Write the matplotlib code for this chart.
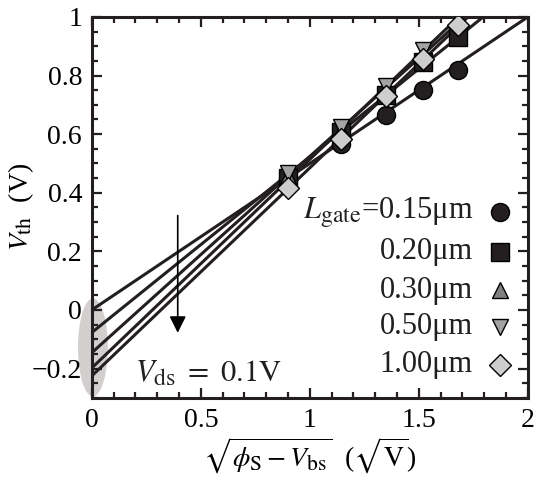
import numpy as np
import matplotlib
matplotlib.use('Agg')
import matplotlib.pyplot as plt
import matplotlib._mathtext as mathtext_internal
from matplotlib.patches import Ellipse

# the original uses rather large subscripts
mathtext_internal.SHRINK_FACTOR = 0.78

plt.rcParams['font.family'] = 'Liberation Serif'
plt.rcParams['mathtext.fontset'] = 'stix'
plt.rcParams['font.size'] = 20

# gate lengths and measured threshold voltages
gate_labels = ['0.15', '0.20', '0.30', '0.50', '1.00']
x_meas = [0.90, 1.145, 1.35, 1.52, 1.68]
vth_015 = [0.445, 0.568, 0.666, 0.751, 0.819]
vth_020 = [0.452, 0.608, 0.734, 0.847, 0.930]
vth_030 = [0.458, 0.615, 0.755, 0.875, 0.990]
vth_050 = [0.466, 0.625, 0.765, 0.888, 1.005]
vth_100 = [0.417, 0.585, 0.730, 0.856, 0.973]

# linear fits: intercept, slope
fit_icpt = [0.0, -0.077, -0.146, -0.198, -0.225]
fit_slope = [0.50, 0.60, 0.67, 0.712, 0.71]

series = [vth_015, vth_020, vth_030, vth_050, vth_100]
markers = ['o', 's', '^', 'v', 'D']
mcolors = ['#231f20', '#231f20', '#808080', '#a3a3a3', '#cdcdcd']
msizes = [13, 13, 12, 12, 11]
dark = '#231f20'

fig = plt.figure(figsize=(5.37, 4.84), dpi=100)
ax = fig.add_axes([0.171, 0.178, 0.812, 0.787])

# gray ellipse marking the intercepts
ell = Ellipse((0.005, -0.128), 0.137, 0.335, facecolor='#d3cfcf',
              edgecolor='none', clip_on=False, zorder=0)
ax.add_patch(ell)

xl = np.array([0.0, 2.0])
for a, b in zip(fit_icpt, fit_slope):
    ax.plot(xl, a + b*xl, color=dark, lw=2.2, zorder=2)

for vals, m, c, s in zip(series, markers, mcolors, msizes):
    ax.plot(x_meas, vals, linestyle='none', marker=m, ms=s, mfc=c,
            mec='black', mew=1.0, zorder=3)

# legend, drawn by hand so the labels are right aligned
leg_y = [0.488, 0.383, 0.283, 0.186, 0.087]
for i, lab in enumerate(gate_labels):
    txt = lab + u'\u03bcm'
    if i == 0:
        txt = r'$L_{\rm gate}$=' + txt
    ax.text(0.874, leg_y[i], txt, transform=ax.transAxes, ha='right',
            va='center', color=dark, fontsize=22)
    ax.plot([0.936], [leg_y[i]], transform=ax.transAxes, marker=markers[i],
            ms=msizes[i], mfc=mcolors[i], mec='black', mew=1.0,
            linestyle='none', clip_on=False)

# arrow for increasing gate length
ax.annotate('', xy=(0.394, -0.078), xytext=(0.394, 0.322),
            arrowprops=dict(arrowstyle='-|>', color='black', lw=1.2,
                            mutation_scale=25, shrinkA=0, shrinkB=0))
ax.text(0.197, -0.22, r'$V_{\rm ds}\ =\ 0.1{\rm V}$', va='center',
        ha='left', color=dark, fontsize=22)

ax.set_xlim(0, 2)
ax.set_ylim(-0.3, 1)
ax.set_xticks([0, 0.5, 1, 1.5, 2])
ax.set_xticklabels(['0', '0.5', '1', '1.5', '2'])
ax.set_yticks([-0.2, 0, 0.2, 0.4, 0.6, 0.8, 1])
ax.set_yticklabels([u'\u22120.2', '0', '0.2', '0.4', '0.6', '0.8', '1'])
ax.set_xticks(np.arange(0, 2.01, 0.1), minor=True)
ax.set_yticks(np.arange(-0.3, 1.001, 0.05), minor=True)
ax.tick_params(which='both', direction='in', top=True, right=True,
               width=1.6, color=dark)
ax.tick_params(which='major', length=7.5, pad=7)
ax.tick_params(which='minor', length=4.5)
for sp in ax.spines.values():
    sp.set_linewidth(2.2)
    sp.set_color(dark)

ax.set_xlabel(r'$\sqrt{\phi_{\rm S} - V_{\rm bs}}$  ($\sqrt{\rm V}$)',
              labelpad=2)
ax.set_ylabel(r'$V_{\rm th}$  (V)')
ax.yaxis.set_label_coords(-0.128, 0.5)

fig.savefig('out.png', dpi=100)
